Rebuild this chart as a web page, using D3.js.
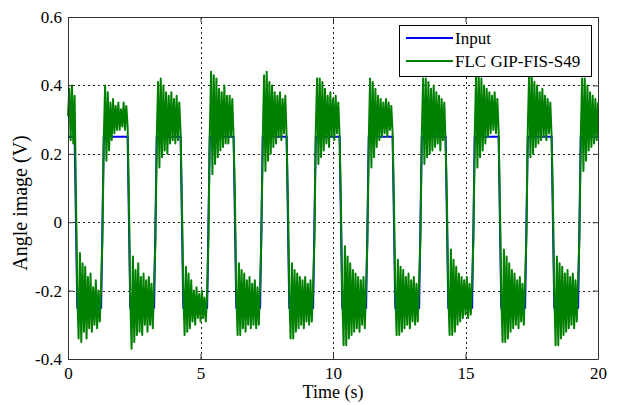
<!DOCTYPE html>
<html>
<head>
	<meta charset="utf-8">
	<title></title>
	<style>
		body { margin: 0; background: #fff; }
		text { font-family: "Liberation Serif", "Times New Roman", serif; }
	</style>
</head>
<body>

<svg id="chart" width="619" height="405"></svg>

<script src="https://d3js.org/d3.v7.min.js"></script>
<script>
	// -------------------------------------------------------------
	// Data

	// sample step of the controller output (s)
	const timeStep = 0.05

	// input square wave: switching instants, its two levels and the ramp time of an edge
	const inputEdges = [0.3, 1.3, 2.3, 3.3, 4.3, 5.3, 6.3, 7.3, 8.3, 9.3,
		10.3, 11.3, 12.3, 13.3, 14.3, 15.3, 16.3, 17.3, 18.3, 19.3]
	const inputLevels = [0.25, -0.25]
	const inputRamp = 0.1

	// FLC output, one row per half period (first and last rows are partial)
	const flcOutput = [
		[0.31, 0.39, 0.24, 0.40, 0.23, 0.37],
		[0.08, -0.20, -0.34, -0.09, -0.35, -0.12, -0.32, -0.13, -0.34, -0.16, -0.31, -0.15, -0.32, -0.19, -0.30, -0.17, -0.31, -0.20, -0.29, -0.19],
		[-0.05, 0.24, 0.40, 0.18, 0.38, 0.21, 0.35, 0.24, 0.36, 0.26, 0.34, 0.27, 0.35, 0.27, 0.33, 0.28, 0.35, 0.27, 0.34, 0.28],
		[0.06, -0.22, -0.37, -0.10, -0.35, -0.14, -0.33, -0.12, -0.32, -0.16, -0.33, -0.15, -0.30, -0.17, -0.32, -0.16, -0.30, -0.18, -0.31, -0.17],
		[-0.06, 0.25, 0.41, 0.16, 0.42, 0.19, 0.40, 0.21, 0.38, 0.20, 0.37, 0.23, 0.38, 0.24, 0.36, 0.23, 0.37, 0.24, 0.35, 0.26],
		[0.05, -0.19, -0.33, -0.13, -0.32, -0.15, -0.31, -0.17, -0.29, -0.20, -0.30, -0.19, -0.28, -0.21, -0.29, -0.20, -0.28, -0.22, -0.29, -0.21],
		[-0.05, 0.26, 0.44, 0.14, 0.43, 0.17, 0.42, 0.19, 0.39, 0.21, 0.38, 0.22, 0.40, 0.23, 0.37, 0.23, 0.37, 0.25, 0.36, 0.24],
		[0.07, -0.20, -0.33, -0.12, -0.33, -0.14, -0.31, -0.15, -0.32, -0.17, -0.30, -0.16, -0.31, -0.18, -0.30, -0.17, -0.31, -0.19, -0.30, -0.18],
		[-0.04, 0.25, 0.43, 0.15, 0.44, 0.18, 0.41, 0.20, 0.40, 0.22, 0.38, 0.23, 0.37, 0.25, 0.38, 0.24, 0.36, 0.26, 0.37, 0.25],
		[0.06, -0.21, -0.34, -0.12, -0.34, -0.14, -0.32, -0.15, -0.31, -0.16, -0.30, -0.17, -0.31, -0.16, -0.29, -0.18, -0.30, -0.17, -0.29, -0.19],
		[-0.05, 0.27, 0.42, 0.17, 0.42, 0.19, 0.41, 0.21, 0.39, 0.23, 0.37, 0.22, 0.38, 0.25, 0.36, 0.24, 0.37, 0.26, 0.35, 0.25],
		[0.05, -0.22, -0.36, -0.07, -0.36, -0.10, -0.34, -0.12, -0.33, -0.14, -0.32, -0.15, -0.31, -0.16, -0.32, -0.17, -0.30, -0.16, -0.31, -0.18],
		[-0.06, 0.24, 0.42, 0.16, 0.41, 0.19, 0.39, 0.22, 0.37, 0.24, 0.36, 0.25, 0.35, 0.26, 0.36, 0.25, 0.35, 0.27, 0.34, 0.26],
		[0.06, -0.20, -0.33, -0.11, -0.33, -0.13, -0.32, -0.14, -0.31, -0.16, -0.30, -0.15, -0.31, -0.17, -0.29, -0.16, -0.30, -0.18, -0.29, -0.17],
		[-0.05, 0.25, 0.42, 0.17, 0.42, 0.19, 0.41, 0.20, 0.39, 0.21, 0.40, 0.22, 0.38, 0.23, 0.37, 0.21, 0.36, 0.24, 0.35, 0.23],
		[0.06, -0.21, -0.33, -0.08, -0.33, -0.11, -0.32, -0.13, -0.30, -0.15, -0.29, -0.16, -0.28, -0.17, -0.27, -0.16, -0.28, -0.18, -0.27, -0.17],
		[-0.05, 0.26, 0.43, 0.16, 0.43, 0.19, 0.42, 0.21, 0.40, 0.23, 0.39, 0.25, 0.38, 0.26, 0.37, 0.27, 0.38, 0.26, 0.36, 0.27],
		[0.05, -0.22, -0.35, -0.08, -0.35, -0.10, -0.34, -0.12, -0.32, -0.14, -0.31, -0.15, -0.30, -0.17, -0.31, -0.16, -0.29, -0.18, -0.30, -0.17],
		[-0.04, 0.27, 0.43, 0.19, 0.43, 0.20, 0.41, 0.22, 0.40, 0.23, 0.38, 0.24, 0.39, 0.25, 0.37, 0.24, 0.36, 0.26, 0.35, 0.25],
		[0.06, -0.21, -0.36, -0.10, -0.36, -0.12, -0.34, -0.13, -0.33, -0.15, -0.32, -0.14, -0.31, -0.16, -0.30, -0.15, -0.31, -0.17, -0.29, -0.16],
		[-0.05, 0.25, 0.42, 0.15, 0.42, 0.18, 0.40, 0.21, 0.38, 0.22, 0.37, 0.23, 0.36, 0.24, 0.35]
	]

	const xTicks = [0, 5, 10, 15, 20]
	const yTicks = [-0.4, -0.2, 0, 0.2, 0.4, 0.6]
	const yTickLabels = ['-0.4', '-0.2', '0', '0.2', '0.4', '0.6']
	const legendLabels = ['Input', 'FLC GIP-FIS-S49']

	// -------------------------------------------------------------

	const plotLeft = 68, plotRight = 598, plotTop = 17, plotBottom = 359
	const blue = '#0000ff', green = '#008000'
	const serif = '"Liberation Serif", "Times New Roman", serif'

	const xScale = d3.scaleLinear().domain([0, 20]).range([plotLeft, plotRight])
	const yScale = d3.scaleLinear().domain([-0.4, 0.6]).range([plotBottom, plotTop])

	const svg = d3.select('#chart')

	svg.append('rect')
		.attr('width', 619).attr('height', 405)
		.attr('fill', '#fff')

	// dotted grid
	const grid = svg.append('g')
		.attr('stroke', '#222')
		.attr('stroke-width', 1)
		.attr('stroke-dasharray', '2,3')
	grid.selectAll('.gx')
		.data(xTicks.slice(1, -1))
		.enter()
		.append('line')
		.attr('x1', d => Math.round(xScale(d)) + 0.5)
		.attr('x2', d => Math.round(xScale(d)) + 0.5)
		.attr('y1', plotTop).attr('y2', plotBottom)
	grid.selectAll('.gy')
		.data(yTicks.slice(1, -1))
		.enter()
		.append('line')
		.attr('y1', d => Math.round(yScale(d)) + 0.5)
		.attr('y2', d => Math.round(yScale(d)) + 0.5)
		.attr('x1', plotLeft).attr('x2', plotRight)

	// input: hold a level, then ramp quickly to the other one at each edge
	const inputPoints = [[0, inputLevels[0]]]
	inputEdges.forEach((t, i) => {
		inputPoints.push([t - inputRamp / 2, inputLevels[i % 2]])
		inputPoints.push([t + inputRamp / 2, inputLevels[(i + 1) % 2]])
	})
	inputPoints.push([20, inputLevels[inputEdges.length % 2]])

	const line = d3.line()
		.x(d => xScale(d[0]))
		.y(d => yScale(d[1]))

	svg.append('path')
		.datum(inputPoints)
		.attr('d', line)
		.attr('fill', 'none')
		.attr('stroke', blue)
		.attr('stroke-width', 2)

	// controller output
	const flcPoints = flcOutput.flat().map((v, i) => [i * timeStep, v])

	svg.append('path')
		.datum(flcPoints)
		.attr('d', line)
		.attr('fill', 'none')
		.attr('stroke', green)
		.attr('stroke-width', 2)
		.attr('stroke-linejoin', 'round')

	// axes box with inward ticks on all four sides
	const axisColor = '#333'
	svg.append('g')
		.attr('transform', `translate(0, ${plotBottom})`)
		.call(d3.axisBottom(xScale).tickValues(xTicks).tickSizeInner(-5).tickSizeOuter(0).tickPadding(8))
	svg.append('g')
		.attr('transform', `translate(0, ${plotTop})`)
		.call(d3.axisTop(xScale).tickValues(xTicks).tickSizeInner(-5).tickSizeOuter(0).tickFormat(''))
	svg.append('g')
		.attr('transform', `translate(${plotLeft}, 0)`)
		.call(d3.axisLeft(yScale).tickValues(yTicks).tickSizeInner(-5).tickSizeOuter(0).tickPadding(6)
			.tickFormat((d, i) => yTickLabels[i]))
	svg.append('g')
		.attr('transform', `translate(${plotRight}, 0)`)
		.call(d3.axisRight(yScale).tickValues(yTicks).tickSizeInner(-5).tickSizeOuter(0).tickFormat(''))

	svg.selectAll('.domain, .tick line')
		.attr('stroke', axisColor)
	svg.selectAll('.tick text')
		.attr('fill', '#000')
		.attr('font-family', serif)
		.style('font-family', serif)
		.style('font-size', '17px')

	// axis titles
	svg.append('text')
		.attr('x', (plotLeft + plotRight) / 2)
		.attr('y', 398)
		.attr('text-anchor', 'middle')
		.style('font-size', '18px')
		.text('Time (s)')

	svg.append('text')
		.attr('transform', 'translate(27, 203) rotate(-90)')
		.attr('text-anchor', 'middle')
		.style('font-size', '20px')
		.text('Angle image (V)')

	// legend
	const legend = svg.append('g')
	legend.append('rect')
		.attr('x', 399.5).attr('y', 25.5)
		.attr('width', 192).attr('height', 51)
		.attr('fill', '#fff')
		.attr('stroke', '#000')

	const items = legend.selectAll('.item')
		.data(legendLabels)
		.enter()
		.append('g')
		.attr('transform', (d, i) => `translate(0, ${38 + i * 23})`)
	items.append('line')
		.attr('x1', 406).attr('x2', 453)
		.attr('stroke', (d, i) => i === 0 ? blue : green)
		.attr('stroke-width', 2)
	items.append('text')
		.attr('x', 455)
		.attr('dy', '0.35em')
		.style('font-size', '17px')
		.text(d => d)
</script>
</body>
</html>
